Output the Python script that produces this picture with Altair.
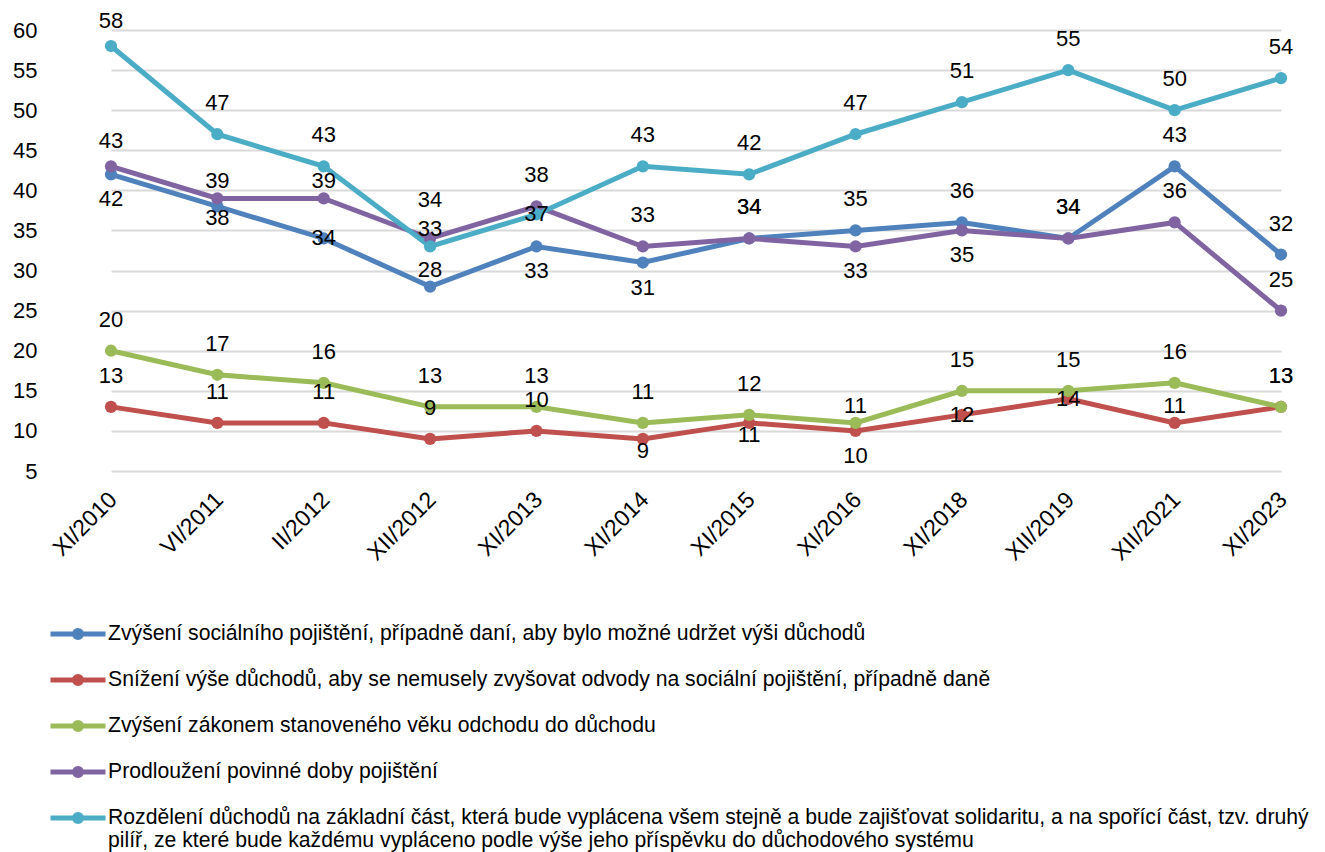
import altair as alt
import pandas as pd

periods = ["XI/2010", "VI/2011", "II/2012", "XII/2012", "XI/2013", "XI/2014",
           "XI/2015", "XI/2016", "XI/2018", "XII/2019", "XII/2021", "XI/2023"]

series_names = [
    "Zvýšení sociálního pojištění, případně daní, aby bylo možné udržet výši důchodů",
    "Snížení výše důchodů, aby se nemusely zvyšovat odvody na sociální pojištění, případně daně",
    "Zvýšení zákonem stanoveného věku odchodu do důchodu",
    "Prodloužení povinné doby pojištění",
    "Rozdělení důchodů na základní část, která bude vyplácena všem stejně a bude zajišťovat solidaritu, a na spořící část, tzv. druhý|pilíř, ze které bude každému vypláceno podle výše jeho příspěvku do důchodového systému",
]

blue = [42, 38, 34, 28, 33, 31, 34, 35, 36, 34, 43, 32]
red = [13, 11, 11, 9, 10, 9, 11, 10, 12, 14, 11, 13]
green = [20, 17, 16, 13, 13, 11, 12, 11, 15, 15, 16, 13]
purple = [43, 39, 39, 34, 38, 33, 34, 33, 35, 34, 36, 25]
cyan = [58, 47, 43, 33, 37, 43, 42, 47, 51, 55, 50, 54]

# label placement codes (a=above, t=slightly above, b=below, c=centre, n=near above, s=near below, h=high above)
blue_pos = ["b", "s", "c", "n", "b", "b", "a", "a", "a", "a", "a", "a"]
red_pos = ["a", "a", "a", "a", "a", "s", "s", "b", "c", "c", "n", "a"]
green_pos = ["a", "a", "a", "a", "a", "a", "a", "n", "a", "a", "a", "a"]
purple_pos = ["t", "n", "n", "h", "a", "a", "a", "b", "b", "a", "a", "a"]
cyan_pos = ["t", "a", "a", "n", "c", "a", "a", "a", "a", "a", "a", "a"]

colors = ["#4F81BD", "#C0504D", "#9BBB59", "#8064A2", "#4BACC6"]
offsets = {"a": -31, "t": -25, "b": 25, "c": 0, "n": -17, "s": 12, "h": -38}

rows = []
for k, (name, vals, pos) in enumerate(zip(series_names,
                                          [blue, red, green, purple, cyan],
                                          [blue_pos, red_pos, green_pos, purple_pos, cyan_pos])):
    for p, v, q in zip(periods, vals, pos):
        rows.append({"period": p, "value": v, "series": name, "pos": q, "k": k})
df = pd.DataFrame(rows)

FONT = "Liberation Sans"

x = alt.X("period:N", sort=periods,
          scale=alt.Scale(type="point", range=[53, 1223], padding=0),
          axis=alt.Axis(title=None, labelAngle=-45, labelAlign="right", labelBaseline="top",
                        labelFontSize=23, labelFont=FONT, labelColor="black", labelPadding=17,
                        labelOffset=-6, ticks=False, domain=False, grid=False))
y = alt.Y("value:Q",
          scale=alt.Scale(domain=[5, 60], nice=False, zero=False),
          axis=alt.Axis(title=None, values=list(range(5, 61, 5)), grid=True, gridColor="#d9d9d9",
                        gridWidth=2, ticks=False, domain=False, labelPadding=21,
                        labelFontSize=22, labelFont=FONT, labelColor="black"))

sym = "M-1,0L1,0M0.13,0A0.13,0.13,0,1,1,-0.13,0A0.13,0.13,0,1,1,0.13,0M0.045,0A0.045,0.045,0,1,1,-0.045,0A0.045,0.045,0,1,1,0.045,0"

color = alt.Color("series:N", sort=series_names,
                  scale=alt.Scale(domain=series_names, range=colors),
                  legend=alt.Legend(title=None, orient="none", legendX=-10, legendY=574,
                                    direction="vertical", symbolType=sym, symbolSize=3025,
                                    symbolStrokeWidth=5, labelFontSize=21.2, labelFont=FONT,
                                    labelColor="black", labelLimit=1300, labelOffset=0,
                                    labelExpr="split(datum.label, '|')", rowPadding=2))

base = alt.Chart(df)
lines = base.mark_line(strokeWidth=5).encode(x=x, y=y, color=color, detail="series:N")
points = base.mark_circle(size=150, opacity=1).encode(
    x=x, y=y, color=alt.Color("series:N", sort=series_names,
                              scale=alt.Scale(domain=series_names, range=colors), legend=None),
    order="k:Q")

labels = []
for code, off in offsets.items():
    labels.append(
        base.transform_filter(alt.datum.pos == code)
        .mark_text(dy=off, fontSize=22, font=FONT, color="black", baseline="middle")
        .encode(x=x, y=y, text="value:Q")
    )

chart = alt.layer(lines, points, *labels).properties(
    width=1255, height=441,
    padding={"left": 50, "top": 22, "right": 4, "bottom": 381},
    autosize=alt.AutoSizeParams(type="none"),
).configure(font=FONT).configure_view(stroke=None, strokeWidth=0)

chart.save("out.html", embed_options={"renderer": "svg", "actions": False})
